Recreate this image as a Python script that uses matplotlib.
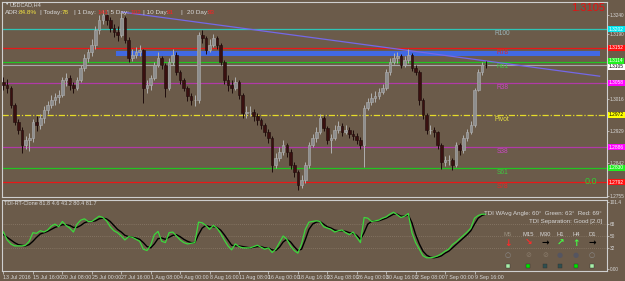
import matplotlib
matplotlib.use("Agg")
import matplotlib.pyplot as plt
import matplotlib.transforms as mtransforms
from matplotlib.patches import Rectangle

plt.rcParams['font.family'] = ['Liberation Sans', 'DejaVu Sans']
NARROW = ['Liberation Sans Narrow', 'Liberation Sans', 'DejaVu Sans']

BG = '#6B5B4A'
FG = '#D8D8D8'

first_open = 1.3060
closes = [1.3052, 1.3044, 1.2999, 1.2953, 1.2932, 1.2892, 1.2905, 1.2910, 1.2953, 1.2945,
          1.2964, 1.2985, 1.2999, 1.3012, 1.3020, 1.3026, 1.3066, 1.3071, 1.3052, 1.3044,
          1.3066, 1.3098, 1.3125, 1.3141, 1.3160, 1.3200, 1.3227, 1.3240, 1.3227, 1.3205,
          1.3194, 1.3186, 1.3232, 1.3173, 1.3125, 1.3133, 1.3141, 1.3146, 1.3044, 1.3052,
          1.3071, 1.3106, 1.3125, 1.3106, 1.3044, 1.3114, 1.3133, 1.3087, 1.3066, 1.3044,
          1.3023, 1.3012, 1.3012, 1.3186, 1.3178, 1.3146, 1.3160, 1.3178, 1.3160, 1.3114,
          1.3066, 1.3052, 1.3044, 1.3060, 1.3026, 1.2977, 1.2980, 1.2980, 1.2969, 1.2959,
          1.2945, 1.2926, 1.2910, 1.2838, 1.2857, 1.2873, 1.2892, 1.2873, 1.2838, 1.2819,
          1.2784, 1.2798, 1.2838, 1.2892, 1.2910, 1.2926, 1.2964, 1.2937, 1.2905, 1.2910,
          1.2932, 1.2943, 1.2926, 1.2932, 1.2921, 1.2916, 1.2905, 1.2892, 1.2991, 1.3007,
          1.3018, 1.3023, 1.3034, 1.3044, 1.3087, 1.3114, 1.3125, 1.3130, 1.3106, 1.3119,
          1.3133, 1.3098, 1.3087, 1.3012, 1.2972, 1.2932, 1.2932, 1.2926, 1.2892, 1.2846,
          1.2851, 1.2851, 1.2838, 1.2892, 1.2878, 1.2910, 1.2926, 1.2945, 1.3039, 1.3087,
          1.3106, 1.3105]
highs = [1.3075, 1.3068, 1.3050, 1.3005, 1.2962, 1.2940, 1.2915, 1.2925, 1.2960, 1.2968,
         1.2975, 1.2995, 1.3010, 1.3025, 1.3030, 1.3040, 1.3075, 1.3085, 1.3078, 1.3060,
         1.3075, 1.3105, 1.3135, 1.3150, 1.3175, 1.3210, 1.3240, 1.3253, 1.3250, 1.3235,
         1.3215, 1.3210, 1.3245, 1.3238, 1.3180, 1.3148, 1.3155, 1.3160, 1.3150, 1.3065,
         1.3080, 1.3115, 1.3140, 1.3130, 1.3110, 1.3125, 1.3148, 1.3140, 1.3092, 1.3072,
         1.3050, 1.3030, 1.3025, 1.3195, 1.3200, 1.3185, 1.3175, 1.3190, 1.3185, 1.3165,
         1.3120, 1.3078, 1.3065, 1.3075, 1.3065, 1.3030, 1.2995, 1.2995, 1.2988, 1.2978,
         1.2965, 1.2950, 1.2935, 1.2915, 1.2870, 1.2885, 1.2905, 1.2898, 1.2880, 1.2845,
         1.2825, 1.2810, 1.2845, 1.2900, 1.2920, 1.2940, 1.2975, 1.2970, 1.2942, 1.2922,
         1.2945, 1.2955, 1.2950, 1.2945, 1.2940, 1.2932, 1.2925, 1.2912, 1.2998, 1.3018,
         1.3030, 1.3035, 1.3045, 1.3055, 1.3095, 1.3125, 1.3138, 1.3142, 1.3135, 1.3130,
         1.3148, 1.3138, 1.3105, 1.3092, 1.3018, 1.2978, 1.2945, 1.2940, 1.2930, 1.2898,
         1.2862, 1.2865, 1.2858, 1.2900, 1.2898, 1.2918, 1.2935, 1.2955, 1.3045, 1.3095,
         1.3115, 1.3118]
lows = [1.3040, 1.3030, 1.2990, 1.2945, 1.2920, 1.2871, 1.2880, 1.2875, 1.2900, 1.2930,
        1.2935, 1.2950, 1.2975, 1.2990, 1.3000, 1.3005, 1.3020, 1.3050, 1.3040, 1.3030,
        1.3038, 1.3060, 1.3090, 1.3115, 1.3130, 1.3150, 1.3190, 1.3215, 1.3212, 1.3195,
        1.3180, 1.3170, 1.3180, 1.3165, 1.3115, 1.3118, 1.3125, 1.3130, 1.3004, 1.3030,
        1.3040, 1.3065, 1.3100, 1.3095, 1.3020, 1.3040, 1.3105, 1.3080, 1.3055, 1.3035,
        1.3010, 1.3000, 1.2995, 1.3005, 1.3165, 1.3135, 1.3140, 1.3155, 1.3150, 1.3105,
        1.3055, 1.3035, 1.3030, 1.3040, 1.3015, 1.2965, 1.2965, 1.2968, 1.2955, 1.2945,
        1.2935, 1.2915, 1.2898, 1.2819, 1.2830, 1.2848, 1.2865, 1.2860, 1.2828, 1.2805,
        1.2771, 1.2775, 1.2790, 1.2830, 1.2885, 1.2900, 1.2920, 1.2930, 1.2895, 1.2870,
        1.2905, 1.2925, 1.2915, 1.2920, 1.2910, 1.2905, 1.2895, 1.2880, 1.2832, 1.2985,
        1.3000, 1.3008, 1.3015, 1.3028, 1.3040, 1.3080, 1.3108, 1.3112, 1.3098, 1.3100,
        1.3110, 1.3090, 1.3078, 1.3000, 1.2962, 1.2922, 1.2920, 1.2912, 1.2880, 1.2828,
        1.2835, 1.2838, 1.2825, 1.2832, 1.2865, 1.2870, 1.2902, 1.2920, 1.2940, 1.3035,
        1.3080, 1.3098]

tdi_green = [56, 44, 38, 35, 35, 35, 36, 42, 55, 54,
             58, 56, 59, 65, 68, 64, 72, 66, 62, 56,
             68, 74, 76, 72, 72, 76, 80, 78, 73, 64,
             58, 55, 50, 44, 49, 48, 45, 42, 30, 28,
             36, 52, 57, 42, 40, 55, 56, 50, 44, 40,
             38, 39, 40, 71, 70, 66, 60, 66, 62, 54,
             44, 35, 29, 38, 34, 32, 32, 32, 34, 36,
             33, 30, 32, 25, 30, 40, 50, 45, 35, 28,
             24, 38, 60, 71, 72, 73, 72, 64, 62, 60,
             56, 58, 59, 55, 52, 56, 48, 40, 78, 77,
             72, 73, 74, 77, 79, 83, 86, 82, 78, 80,
             84, 55, 40, 30, 20, 17, 17, 18, 20, 23,
             27, 30, 37, 41, 46, 51, 56, 62, 77, 81,
             83, 83]
tdi_signal = [52, 48, 44, 40, 37, 36, 35, 37, 42, 48,
              53, 55, 57, 60, 63, 65, 67, 67, 66, 63,
              63, 66, 70, 72, 72, 73, 76, 77, 76, 72,
              66, 60, 56, 51, 49, 48, 47, 45, 40, 34,
              32, 38, 46, 47, 45, 48, 51, 52, 49, 45,
              42, 40, 40, 52, 62, 66, 64, 64, 63, 59,
              52, 44, 36, 35, 35, 34, 33, 32, 33, 34,
              34, 32, 32, 29, 28, 33, 41, 45, 41, 34,
              28, 30, 44, 60, 68, 71, 72, 68, 64, 62,
              59, 58, 58, 57, 55, 54, 51, 45, 55, 68,
              72, 73, 73, 75, 77, 80, 83, 83, 80, 80,
              82, 70, 52, 38, 27, 21, 18, 17, 18, 20,
              24, 27, 32, 37, 42, 47, 52, 58, 68, 77,
              81, 83]

date_labels = ['13 Jul 2016', '15 Jul 16:00', '20 Jul 08:00', '25 Jul 00:00', '27 Jul 16:00',
               '1 Aug 08:00', '4 Aug 00:00', '8 Aug 16:00', '11 Aug 08:00', '16 Aug 00:00',
               '18 Aug 16:00', '23 Aug 08:00', '26 Aug 00:00', '30 Aug 16:00', '2 Sep 08:00',
               '7 Sep 00:00', '9 Sep 16:00']
date_pos = [0, 8, 16, 24, 32, 40, 48, 56, 64, 72, 80, 88, 96, 104, 112, 120, 128]

level_names = ['R100', 'R78', 'R61', 'R38', 'Pivot', 'S38', 'S61', 'S78']
level_prices = [1.3202, 1.3152, 1.3114, 1.3058, 1.2972, 1.2886, 1.2830, 1.2792]
level_colors = ['#2EC4B6', '#E81818', '#22C422', '#B03AA8', '#E6DC2A', '#B03AA8', '#22C422', '#E81818']
level_text_colors = ['#9CB4B8', '#E02828', '#40C840', '#C848C0', '#E8E040', '#C848C0', '#40C840', '#E02828']
bid = 1.3105

zone_low, zone_high = 1.3130, 1.3143
zone_start, zone_end = 30.7, 162.2
trend_x = [32.1, 162.0]
trend_y = [1.3248, 1.3076]

price_ticks = [1.3240, 1.3190, 1.3103, 1.3016, 1.2929, 1.2842, 1.2755]
tdi_ticks = [101.4, 68, 50, 32, 0]
tdi_tick_labels = ['101.4', '68', '50', '32', '0.00']

tf_names = ['M5', 'M15', 'M30', 'H1', 'H4', 'D1']
tf_arrows = ['\u2193', '\u2198', '\u2192', '\u2197', '\u2191', '\u2192']
tf_arrow_colors = ['#FF2A2A', '#FF2A2A', '#000000', '#44FF44', '#44FF44', '#000000']
tf_dots = ['\u25CB', '\u2298', '\u2298', '\u25CF', '\u25CF', '\u25CB']
tf_dot_colors = ['#8C8C8C', '#8A7C6C', '#8A7C6C', '#555560', '#555560', '#8C8C8C']
tf_squares = ['#A8F0A8', '#00E000', '#2F4F4F', '#2F4F4F', '#00E000', '#A8F0A8']

W, H = 625, 281
fig = plt.figure(figsize=(W / 100, H / 100), dpi=100, facecolor=BG)
ax = fig.add_axes([2 / W, 1 - 197 / H, 605 / W, 195 / H], facecolor=BG)
ax2 = fig.add_axes([2 / W, 1 - 271 / H, 605 / W, 71 / H], facecolor=BG)

xlim = (-0.4, 164.0)
for a in (ax, ax2):
    a.set_xlim(*xlim)
    for s in a.spines.values():
        s.set_color('#CFCFCF')
        s.set_linewidth(0.8)
    a.yaxis.tick_right()
    a.tick_params(axis='y', colors=FG, labelsize=3.4, length=1.5, width=0.5, pad=0.6)

ax.set_ylim(1.27522, 1.32748)
ax.set_xticks([])

# levels
for name, p, c, tc in zip(level_names, level_prices, level_colors, level_text_colors):
    if name == 'Pivot':
        ax.axhline(p, color=c, lw=0.9, dashes=(5, 1.5, 1, 1.5), zorder=1)
    else:
        ax.axhline(p, color=c, lw=0.9, zorder=1)
    ax.text(135.5, p - 0.0003, name, color=tc, fontsize=4.8, ha='center', va='top', zorder=2)
ax.axhline(bid, color='#A8A8A8', lw=0.8, zorder=1)

ax.add_patch(Rectangle((zone_start, zone_low), zone_end - zone_start, zone_high - zone_low,
                       facecolor='#4169E1', edgecolor='none', zorder=1.5))
ax.plot(trend_x, trend_y, color='#7468E8', lw=0.9, zorder=2)

# candles
opens = [first_open] + closes[:-1]
for i, (o, h, l, c) in enumerate(zip(opens, highs, lows, closes)):
    bull = c >= o
    wick = '#B0B0B0' if bull else '#1E0C0C'
    body = '#8E8E8E' if bull else '#3A1010'
    ax.vlines(i, l, h, color=wick, lw=0.7, zorder=3)
    lo, hi = min(o, c), max(o, c)
    ax.add_patch(Rectangle((i - 0.36, lo), 0.72, max(hi - lo, 0.00008),
                           facecolor=body, edgecolor=wick, lw=0.4, zorder=4))

ax.set_yticks(price_ticks)
ax.set_yticklabels([f'{t:.4f}' for t in price_ticks], family=NARROW)

# price boxes on the right
blend = mtransforms.blended_transform_factory(ax.transAxes, ax.transData)
box_colors = ['#00E5EE', '#FF1010', '#20F020', '#FFFFFF', '#FF00FF', '#FFFF00', '#FF00FF', '#20F020', '#FF1010']
box_prices = [1.3202, 1.3152, 1.3114, 1.3105, 1.3058, 1.2972, 1.2886, 1.2830, 1.2792]
box_text = ['#FFFFFF', '#FFFFFF', '#FFFFFF', '#000000', '#FFFFFF', '#000000', '#FFFFFF', '#FFFFFF', '#FFFFFF']
ybump = [0, 0, 0.0003, -0.0004, 0, 0, 0, 0, 0]
for p, bc, tc, d in zip(box_prices, box_colors, box_text, ybump):
    ax.text(1.003, p + d, f'{p:.4f}', transform=blend, fontsize=3.5, color=tc, ha='left',
            va='center', clip_on=False, zorder=10, family=NARROW,
            bbox=dict(boxstyle='square,pad=0.15', fc=bc, ec='none'))

# header texts
ax.text(0.004, 0.988, '\u25BC', transform=ax.transAxes, fontsize=3.2, color=FG, va='center')
ax.text(0.013, 0.988, 'USDCAD,H4', transform=ax.transAxes, fontsize=4.0, color=FG,
        va='center', family=NARROW)
pieces = [('ADR:', 5, FG), ('84.8%', 19, '#F0E040'), ('| Today:', 40, FG), ('78', 62, '#F0E040'),
          ('| 1 Day:', 74, FG), ('141', 97, '#FF2020'), ('| 5 Day:', 107, FG), ('102', 130, '#FF2020'),
          ('| 10 Day:', 143, FG), ('91', 167, '#FF2020'), ('|', 180, FG), ('20 Day:', 187, FG),
          ('93', 208, '#FF2020')]
for txt, px, col in pieces:
    ax.text((px - 2) / 605, (197 - 12.5) / 195, txt, transform=ax.transAxes, fontsize=4.6,
            color=col, va='center', ha='left', family=NARROW)
ax.text((605 - 2) / 605, (197 - 8) / 195, '1.3105', transform=ax.transAxes, fontsize=8,
        color='#E81010', ha='right', va='center')
ax.text((591 - 2) / 605, (197 - 181) / 195, '0.0', transform=ax.transAxes, fontsize=6.5,
        color='#30D030', ha='center', va='center')

# TDI panel
ax2.set_ylim(-3.0, 104.5)
for lv in (68, 50, 32):
    ax2.axhline(lv, color='#9A8A78', lw=0.5, ls=(0, (1, 2)), zorder=1)
idx = list(range(len(tdi_green)))
ax2.plot(idx, tdi_signal, color='#000000', lw=1.0, zorder=2)
ax2.plot(idx, tdi_green, color='#3CD83C', lw=0.9, zorder=3)
ax2.set_yticks(tdi_ticks)
ax2.set_yticklabels(tdi_tick_labels, family=NARROW)
ax2.set_xticks(date_pos)
ax2.set_xticklabels(date_labels, ha='left', family=NARROW)
ax2.tick_params(axis='x', colors=FG, labelsize=3.8, length=2, width=0.5, pad=1)


def px2(px, py):
    return (px - 2) / 605, (271 - py) / 71


ax2.text(*px2(4, 203.5), 'TDI-RT-Clone 81.8 4.6 43.2 80.4 81.7', transform=ax2.transAxes,
         fontsize=4, color=FG, va='center', family=NARROW)
ax2.text(*px2(602, 213), 'TDI WAvg Angle: 60\u00b0  Green: 63\u00b0  Red: 69\u00b0',
         transform=ax2.transAxes, fontsize=4.4, color=FG, va='center', ha='right', family=NARROW)
ax2.text(*px2(602, 221), 'TDI Separation: Good [2.0]', transform=ax2.transAxes,
         fontsize=4.4, color=FG, va='center', ha='right', family=NARROW)
tf_x = [508, 528, 545, 560, 576, 592]
for k, (nm, ar, ac, dt, dc, sq) in enumerate(zip(tf_names, tf_arrows, tf_arrow_colors,
                                                  tf_dots, tf_dot_colors, tf_squares)):
    x = tf_x[k]
    ax2.text(*px2(x, 234), nm, transform=ax2.transAxes, fontsize=4.2,
             color='#9A9080' if nm == 'M5' else FG, ha='center', va='center', family=NARROW)
    ax2.text(*px2(x, 243), ar, transform=ax2.transAxes, fontsize=6.5, color=ac,
             ha='center', va='center', fontweight='bold', family=['DejaVu Sans'])
    ax2.text(*px2(x, 255), dt, transform=ax2.transAxes, fontsize=5, color=dc,
             ha='center', va='center', family=['DejaVu Sans'])
    ax2.plot(*px2(x, 266), marker='s', ms=3, color=sq, mec='#303030', mew=0.3,
             transform=ax2.transAxes, clip_on=False)

fig.savefig('out.png', dpi=100, facecolor=BG)
